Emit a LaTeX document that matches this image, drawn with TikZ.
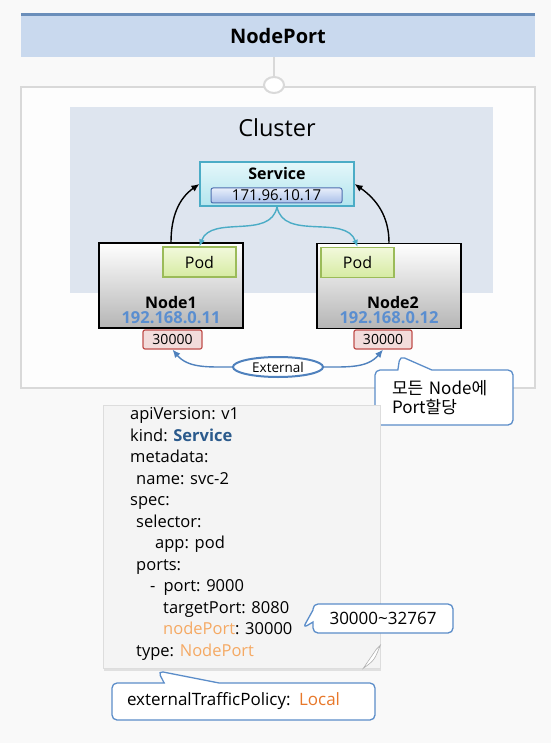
\documentclass[tikz,border=0pt]{standalone}
\usepackage{fontspec}
\setmainfont{Open Sans}
\newfontfamily\kofont{Noto Sans CJK KR}
\usetikzlibrary{
    shapes.geometric,
    shapes.callouts,
    arrows.meta,
    shadows,
    positioning,
}
\definecolor{bgpaper}{HTML}{F9F9F9}
\definecolor{outerfill}{HTML}{FDFDFD}
\definecolor{outerline}{HTML}{D9D9D9}
\definecolor{titlefill}{HTML}{C9D9EE}
\definecolor{titleline}{HTML}{6A8EBA}
\definecolor{clusterfill}{HTML}{DEE5EF}
\definecolor{servicetop}{HTML}{E4F7FA}
\definecolor{servicebot}{HTML}{B3E5EE}
\definecolor{servicebd}{HTML}{4BACC6}
\definecolor{iptop}{HTML}{E8EEFA}
\definecolor{ipbot}{HTML}{A9C0EA}
\definecolor{ipbd}{HTML}{4F6FAF}
\definecolor{nodebot}{HTML}{B5B5B5}
\definecolor{podtop}{HTML}{F2F9DC}
\definecolor{podbot}{HTML}{D6EBA2}
\definecolor{podbd}{HTML}{9BBB59}
\definecolor{portfill}{HTML}{F2DCDB}
\definecolor{portbd}{HTML}{C0504D}
\definecolor{ipblue}{HTML}{5A8ED0}
\definecolor{extblue}{HTML}{4F81BD}
\definecolor{calloutblue}{HTML}{5B8DC9}
\definecolor{notefill}{HTML}{F4F4F4}
\definecolor{notebd}{HTML}{DDDDDD}
\definecolor{kindblue}{HTML}{2B5A8C}
\definecolor{nodeorange}{HTML}{F5A963}
\definecolor{localorange}{HTML}{E8782A}
\newcommand\pxfont[2]{\fontsize{#1}{#2}\selectfont}

\begin{document}
\begin{tikzpicture}[x=1pt, y=-1pt,
        plainbox/.style={rectangle, inner sep=0pt},
        bubble/.style={rectangle callout, draw=calloutblue, line width=1.3pt, fill=white, rounded corners=5pt, inner sep=0pt, align=left},
        flow/.style={-{Latex[length=8pt,width=7pt]}, line width=1.4pt},
    ]

        \fill[bgpaper] (0,0) rectangle (551,743);
        \useasboundingbox (0,0) rectangle (551,743);

        \node[plainbox, fill=titlefill, minimum width=514, minimum height=42, font=\bfseries\pxfont{20}{24}] (title) at (278,36) {NodePort};
        \draw[titleline, line width=3pt] (title.north west) -- (title.north east);

        \node[plainbox, draw=outerline, line width=2.5pt, fill=outerfill, minimum width=514, minimum height=301] (outer) at (278,237.5) {};
        \node[ellipse, draw=outerline, line width=2pt, fill=white, minimum width=20, minimum height=16, inner sep=0pt] (joint) at (274,85) {};
        \draw[outerline, line width=1.5pt] (joint.north) -- (joint.north |- title.south);

        \node[plainbox, fill=clusterfill, minimum width=423, minimum height=186] (cluster) at (281.5,200) {};
        \node[font=\pxfont{23.5}{28}] (clusterlabel) at (277,128) {Cluster};

        \node[plainbox, draw=servicebd, line width=1.3pt, top color=servicetop, bottom color=servicebot, minimum width=154, minimum height=44] (service) at (277,184) {};
        \node[font=\bfseries\pxfont{16}{19}] (servicelabel) at (277,174) {Service};
        \node[plainbox, draw=ipbd, line width=1pt, rounded corners=2pt, top color=iptop, bottom color=ipbot, minimum width=131, minimum height=15, font=\pxfont{15}{18}] (serviceip) at (276.5,195.5) {171.96.10.17};

        \node[plainbox, draw, line width=1.5pt, top color=white, bottom color=nodebot, minimum width=144, minimum height=85] (node1) at (171,285.5) {};
        \node[plainbox, draw, line width=1.5pt, top color=white, bottom color=nodebot, minimum width=144, minimum height=85] (node2) at (389,286) {};
        \node[plainbox, draw=podbd, line width=1.2pt, top color=podtop, bottom color=podbot, minimum width=73, minimum height=30, font=\pxfont{16}{19}] (pod1) at (199.5,262) {Pod};
        \node[plainbox, draw=podbd, line width=1.2pt, top color=podtop, bottom color=podbot, minimum width=73, minimum height=30, font=\pxfont{16}{19}] (pod2) at (357.5,262.5) {Pod};
        \node[font=\bfseries\pxfont{16}{19}] (node1name) at (171,302) {Node1};
        \node[font=\bfseries\pxfont{16.5}{19}, text=ipblue] (node1ip) at (171,318) {192.168.0.11};
        \node[font=\bfseries\pxfont{16}{19}] (node2name) at (393,302) {Node2};
        \node[font=\bfseries\pxfont{16.5}{19}, text=ipblue] (node2ip) at (389,318) {192.168.0.12};

        \node[plainbox, draw=portbd, line width=1.2pt, fill=portfill, rounded corners=2pt, minimum width=59, minimum height=19, font=\pxfont{14}{17}] (port1) at (172.5,339.5) {30000};
        \node[plainbox, draw=portbd, line width=1.2pt, fill=portfill, rounded corners=2pt, minimum width=58, minimum height=19, font=\pxfont{14}{17}] (port2) at (383,339.5) {30000};
        \node[ellipse, draw=extblue, line width=2pt, fill=white, minimum width=90, minimum height=20, inner sep=0pt, font=\pxfont{13.5}{16}] (external) at (278,367) {External};

        \draw[flow] (node1.north) to[out=90, in=215] (service.west);
        \draw[flow] (node2.north) to[out=90, in=-35] (service.east);
        \draw[flow, servicebd, -{Latex[length=7pt,width=6pt]}] (service.south) to[out=-100, in=70] (pod1.north);
        \draw[flow, servicebd, -{Latex[length=7pt,width=6pt]}] (service.south) to[out=-80, in=110] (pod2.north);
        \draw[flow, extblue] (external.west) to[out=180, in=-50] (port1.south);
        \draw[flow, extblue] (external.east) to[out=0, in=-130] (port2.south);

        \coordinate (porttip) at (400,356);
        \node[bubble, callout absolute pointer={(porttip)}, callout pointer width=34pt, minimum height=55, inner xsep=17pt, text width=104pt, font=\kofont\pxfont{17}{19.5}] (allnodes) at (444,397.5) {모든 Node에\\Port할당};

        \node[plainbox, fill=notefill, draw=notebd, line width=.6pt, minimum width=277, minimum height=263, drop shadow={opacity=.2, shadow xshift=1pt, shadow yshift=-2.5pt}] (manifest) at (241.5,536.5) {};
        \draw[notebd!80!black, line width=.6pt, fill=white] ([xshift=-17pt]manifest.south east) .. controls ([xshift=-6pt, yshift=8pt]manifest.south east) .. ([yshift=23pt]manifest.south east) -- ([xshift=-4pt, yshift=19pt]manifest.south east) -- cycle;
        \node[anchor=north west, align=left, inner sep=0pt, font=\pxfont{16.5}{21.5}] (manifestyaml) at (130,407.5) {apiVersion: v1\\
            kind: \textcolor{kindblue}{\bfseries Service}\\
            metadata:\\
            \hspace*{6pt}name: svc-2\\
            spec:\\
            \hspace*{6pt}selector:\\
            \hspace*{25pt}app: pod\\
            \hspace*{6pt}ports:\\
            \hspace*{20pt}-\hspace{8pt}port: 9000\\
            \hspace*{33pt}targetPort: 8080\\
            \hspace*{33pt}\textcolor{nodeorange}{nodePort}: 30000\\
            \hspace*{6pt}type: \textcolor{nodeorange}{NodePort}};

        \coordinate (rangetip) at (303,628);
        \node[bubble, callout absolute pointer={(rangetip)}, callout pointer width=12pt, minimum width=140, minimum height=29, align=center, font=\pxfont{17}{20}] (portrange) at (383,618.5) {30000\textasciitilde32767};

        \coordinate (policytip) at (158,671);
        \node[bubble, callout absolute pointer={(policytip)}, callout pointer width=55pt, minimum height=37, inner xsep=15pt, text width=233pt, font=\pxfont{17}{20}] (policy) at (243.5,701.5) {externalTrafficPolicy: \textcolor{localorange}{Local}};
    \end{tikzpicture}
\end{document}
